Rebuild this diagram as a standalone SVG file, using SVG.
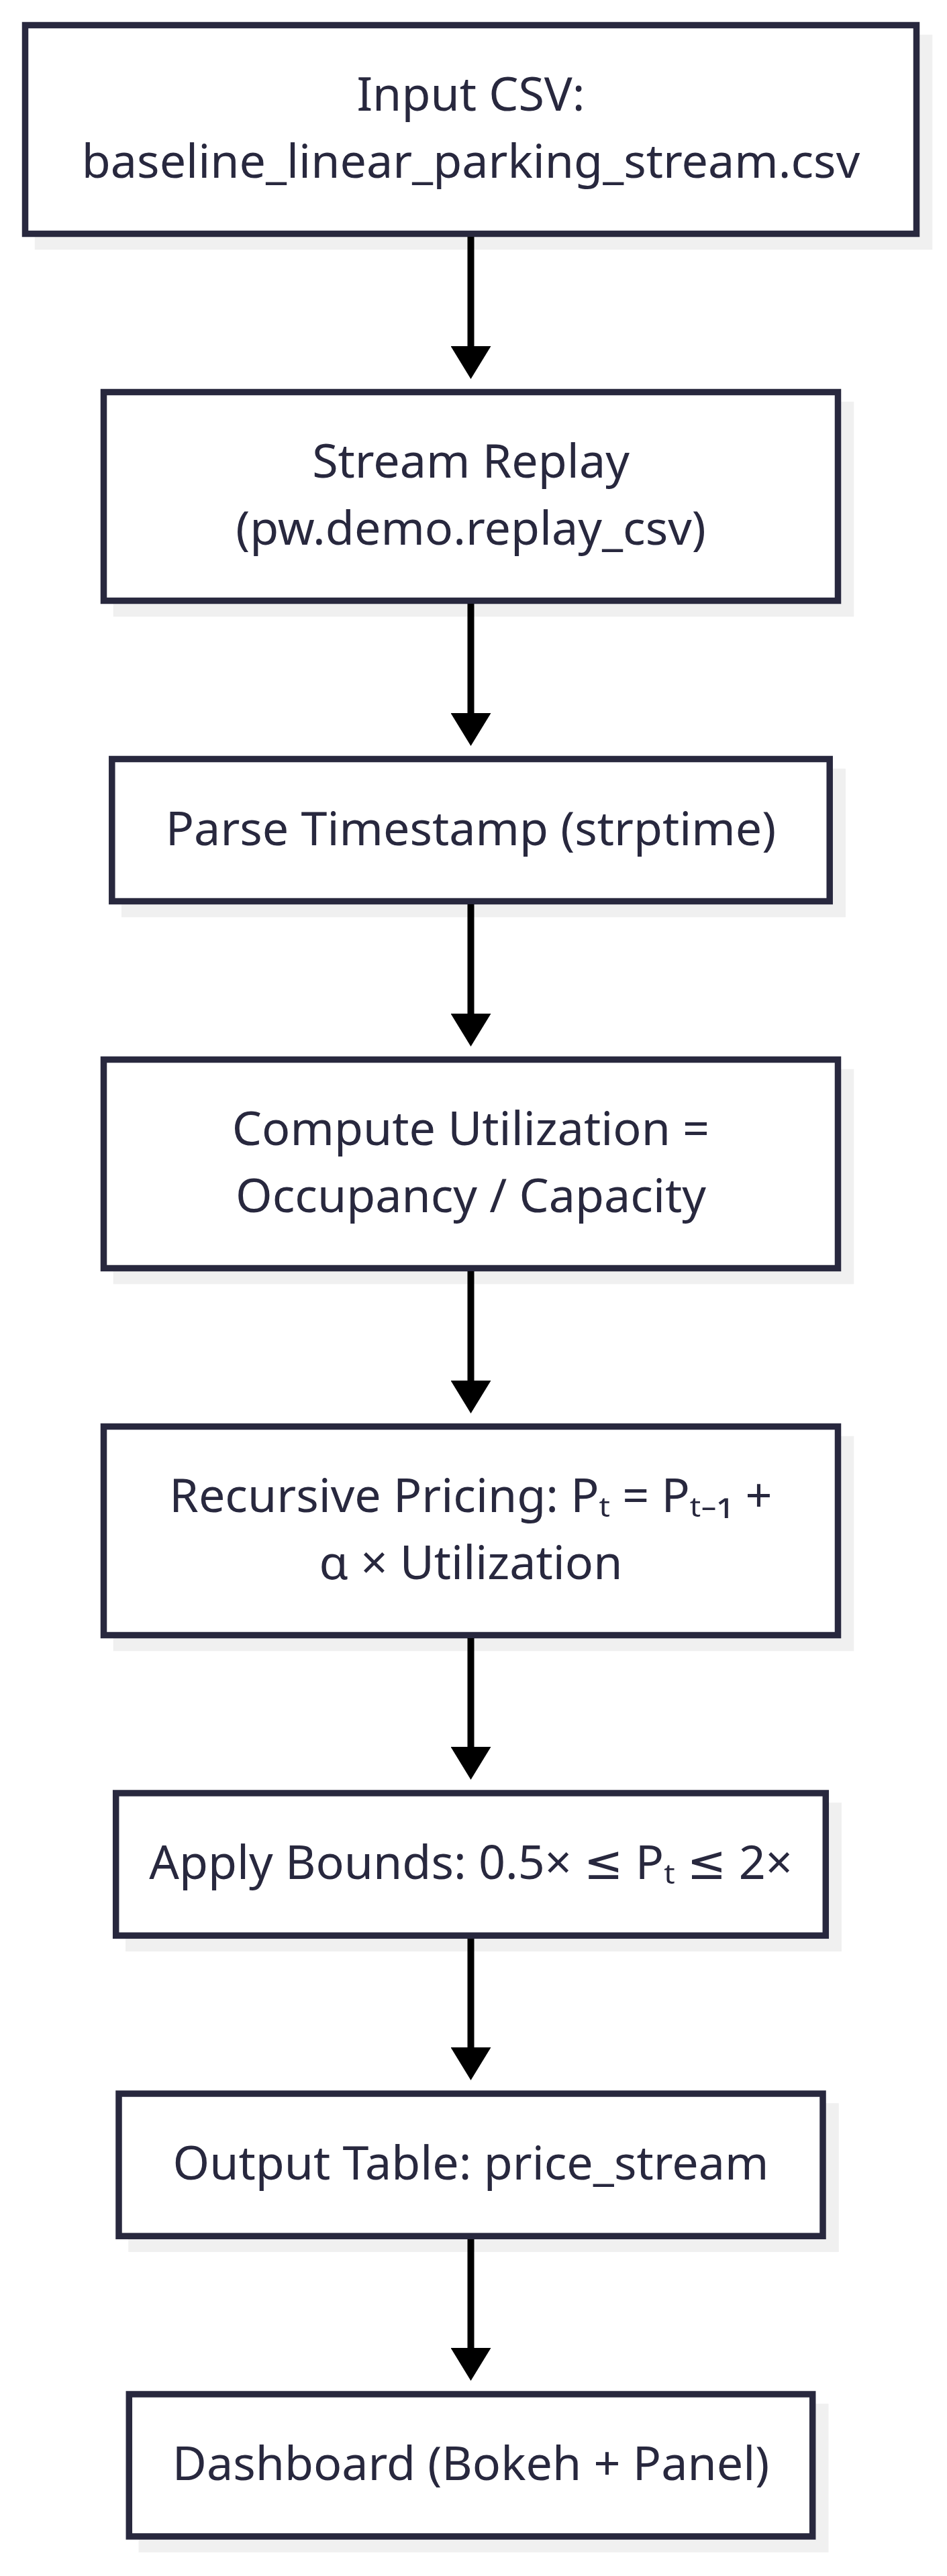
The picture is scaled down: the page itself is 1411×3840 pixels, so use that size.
<svg xmlns="http://www.w3.org/2000/svg" width="1411" height="3840" viewBox="0 0 1411 3840">
<style>
.shadow { fill: #f0f0f0; }
.shape { fill: #ffffff; stroke: #28283e; stroke-width: 9.5; }
.label { font-family: "Noto Sans", "DejaVu Sans", sans-serif; font-size: 70px; fill: #28283e; text-anchor: middle; }
.edge { stroke: #000000; stroke-width: 10; fill: none; }
</style>
<defs>
<marker id="arrow" markerUnits="userSpaceOnUse" markerWidth="49" markerHeight="60" viewBox="0 0 49 60" refX="4" refY="30" orient="auto">
<path d="M0,0 L49,30 L0,60 Z" fill="#000000"/>
</marker>
</defs>
<rect width="1411" height="3840" fill="#ffffff"/>
<g id="node-input">
<rect class="shadow" x="51.75" y="51.75" width="1337.5" height="320.5"/>
<rect class="shape" x="37.5" y="37.5" width="1328" height="311"/>
<text class="label" x="701.5" y="165">Input CSV:</text>
<text class="label" x="701.5" y="265">baseline_linear_parking_stream.csv</text>
</g>
<g id="node-replay">
<rect class="shadow" x="168.75" y="598.75" width="1103.5" height="320.5"/>
<rect class="shape" x="154.5" y="584.5" width="1094" height="311"/>
<text class="label" x="701.5" y="712">Stream Replay</text>
<text class="label" x="701.5" y="812">(pw.demo.replay_csv)</text>
</g>
<g id="node-parse">
<rect class="shadow" x="181.05" y="1145.75" width="1078.9" height="221.5"/>
<rect class="shape" x="166.8" y="1131.5" width="1069.4" height="212"/>
<text class="label" x="701.5" y="1259.5">Parse Timestamp (strptime)</text>
</g>
<g id="node-utilization">
<rect class="shadow" x="168.75" y="1593.75" width="1103.5" height="320.5"/>
<rect class="shape" x="154.5" y="1579.5" width="1094" height="311"/>
<text class="label" x="701.5" y="1707">Compute Utilization =</text>
<text class="label" x="701.5" y="1807">Occupancy / Capacity</text>
</g>
<g id="node-pricing">
<rect class="shadow" x="168.75" y="2140.75" width="1103.5" height="320.5"/>
<rect class="shape" x="154.5" y="2126.5" width="1094" height="311"/>
<text class="label" x="701.5" y="2254">Recursive Pricing: Pₜ = Pₜ₋₁ +</text>
<text class="label" x="701.5" y="2354">α × Utilization</text>
</g>
<g id="node-bounds">
<rect class="shadow" x="186.95" y="2687.25" width="1067.1" height="221.8"/>
<rect class="shape" x="172.7" y="2673" width="1057.6" height="212.3"/>
<text class="label" x="701.5" y="2801">Apply Bounds: 0.5× ≤ Pₜ ≤ 2×</text>
</g>
<g id="node-output">
<rect class="shadow" x="191.25" y="3135.25" width="1058.5" height="221.8"/>
<rect class="shape" x="177" y="3121" width="1049" height="212.3"/>
<text class="label" x="701.5" y="3249">Output Table: price_stream</text>
</g>
<g id="node-dashboard">
<rect class="shadow" x="206.55" y="3583.25" width="1027.9" height="221.5"/>
<rect class="shape" x="192.3" y="3569" width="1018.4" height="212"/>
<text class="label" x="701.5" y="3697">Dashboard (Bokeh + Panel)</text>
</g>
<g id="connectors">
<path class="edge" d="M701.5,353 V520" marker-end="url(#arrow)"/>
<path class="edge" d="M701.5,900 V1067" marker-end="url(#arrow)"/>
<path class="edge" d="M701.5,1348 V1515" marker-end="url(#arrow)"/>
<path class="edge" d="M701.5,1895 V2062" marker-end="url(#arrow)"/>
<path class="edge" d="M701.5,2442 V2608" marker-end="url(#arrow)"/>
<path class="edge" d="M701.5,2890 V3056" marker-end="url(#arrow)"/>
<path class="edge" d="M701.5,3338 V3504" marker-end="url(#arrow)"/>
</g>
</svg>
